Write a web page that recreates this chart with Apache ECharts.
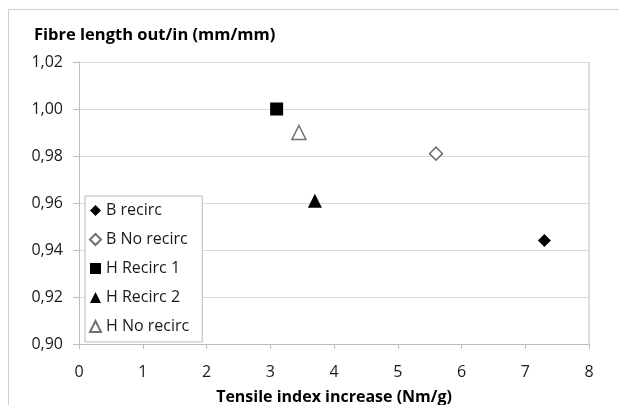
<!DOCTYPE html>
<html><head><meta charset="utf-8">
<script src="https://cdn.jsdelivr.net/npm/echarts@6/dist/echarts.min.js"></script>
<style>html,body{margin:0;padding:0;background:#fff}#c{width:619px;height:405px}</style>
</head><body><div id="c"></div>
<script>
var seriesNames = ['B recirc','B No recirc','H Recirc 1','H Recirc 2','H No recirc'];
var bRecirc = [[7.3, 0.944]];
var bNoRecirc = [[5.6, 0.981]];
var hRecirc1 = [[3.1, 1.000]];
var hRecirc2 = [[3.7, 0.961]];
var hNoRecirc = [[3.45, 0.990]];
var yTitle = 'Fibre length out/in (mm/mm)';
var xTitle = 'Tensile index increase (Nm/g)';

var font = '"Open Sans", sans-serif';
var chart = echarts.init(document.getElementById('c'), null, {renderer:'canvas'});
function fmt(v, d){ return v.toFixed(d).replace('.', ','); }
chart.setOption({
  animation:false,
  backgroundColor:'#fff',
  textStyle:{fontFamily:font},
  graphic:[
    {type:'line', shape:{x1:8.5,y1:9.5,x2:619,y2:9.5}, style:{stroke:'#d0d0d0',lineWidth:1}},
    {type:'line', shape:{x1:8.5,y1:9.5,x2:8.5,y2:405}, style:{stroke:'#d0d0d0',lineWidth:1}},
    {type:'text', left:34, top:27, style:{text:yTitle, font:'bold 16.5px '+font, fill:'#000'}}
  ],
  grid:{left:79, right:30, top:62, bottom:61, show:false, outerBoundsMode:'none', containLabel:false},
  legend:{
    orient:'vertical', left:85, top:196, width:118,
    data:seriesNames,
    itemWidth:11, itemHeight:11, itemGap:10,
    padding:[5,13,6,4],
    borderColor:'#b8b8b8', borderWidth:1, backgroundColor:'#fff',
    textStyle:{fontFamily:font, fontSize:16, color:'#1a1a1a', padding:[0,0,0,0], lineHeight:19}
  },
  xAxis:{
    type:'value', min:0, max:8, interval:1,
    name:xTitle, nameLocation:'middle', nameGap:45,
    nameTextStyle:{fontFamily:font, fontSize:16, fontWeight:'bold', color:'#000'},
    axisLine:{show:true, lineStyle:{color:'#bdbdbd'}},
    axisTick:{show:true, length:5, lineStyle:{color:'#bdbdbd'}},
    axisLabel:{fontFamily:font, fontSize:16, color:'#1a1a1a', margin:20},
    splitLine:{show:false}
  },
  yAxis:{
    type:'value', min:0.90, max:1.02, interval:0.02,
    axisLine:{show:true, lineStyle:{color:'#bdbdbd'}},
    axisTick:{show:true, length:6, lineStyle:{color:'#bdbdbd'}},
    axisLabel:{fontFamily:font, fontSize:16, color:'#1a1a1a', margin:16, formatter:function(v){return fmt(v,2);}},
    splitLine:{show:true, lineStyle:{color:'#d9d9d9'}}
  },
  series:[
    {name:seriesNames[0], type:'scatter', data:bRecirc, symbol:'diamond', symbolSize:13, itemStyle:{color:'#000', opacity:1}},
    {name:seriesNames[1], type:'scatter', data:bNoRecirc, symbol:'diamond', symbolSize:13, itemStyle:{color:'#fff', borderColor:'#707070', borderWidth:1.5, opacity:1}},
    {name:seriesNames[2], type:'scatter', data:hRecirc1, symbol:'rect', symbolSize:13, itemStyle:{color:'#000', opacity:1}},
    {name:seriesNames[3], type:'scatter', data:hRecirc2, symbol:'triangle', symbolSize:14, itemStyle:{color:'#000', opacity:1}},
    {name:seriesNames[4], type:'scatter', data:hNoRecirc, symbol:'triangle', symbolSize:14, itemStyle:{color:'#fff', borderColor:'#707070', borderWidth:1.5, opacity:1}},
    {type:'line', data:[[8,0.90],[8,1.02]], symbol:'none', silent:true, lineStyle:{color:'#bdbdbd', width:1}, tooltip:{show:false}}
  ]
});
</script></body></html>
